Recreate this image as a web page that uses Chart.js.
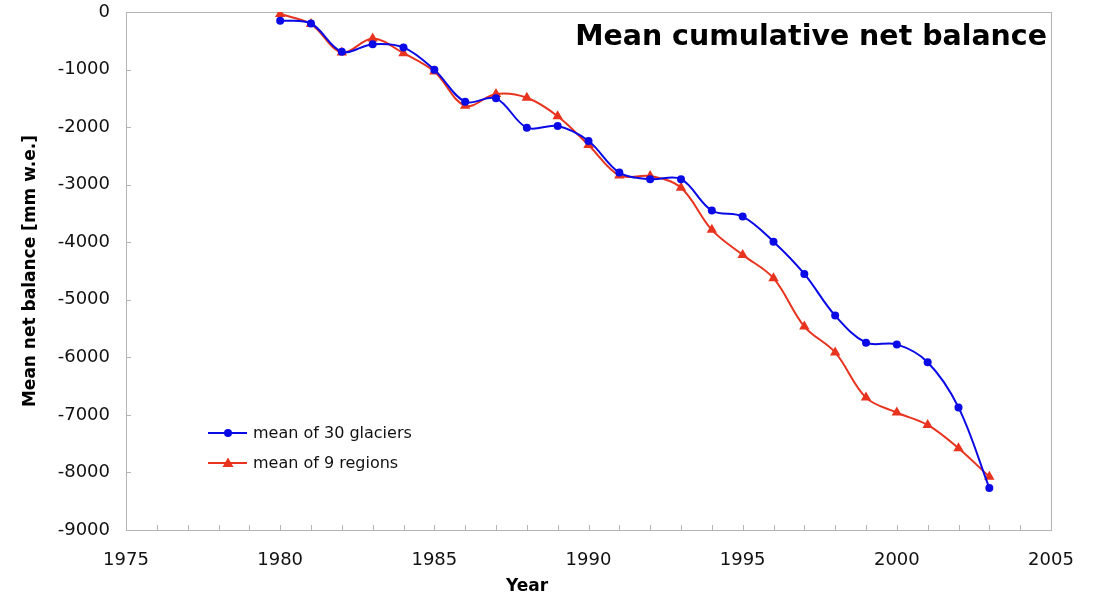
<!DOCTYPE html>
<html>
<head>
<meta charset="utf-8">
<title>Mean cumulative net balance</title>
<script src="https://cdn.jsdelivr.net/npm/chart.js@4/dist/chart.umd.min.js"></script>
<style>
  html, body { margin: 0; padding: 0; background: #ffffff; }
  #wrap { width: 1106px; height: 598px; position: relative; }
</style>
</head>
<body>
<div id="wrap"><canvas id="chart" width="1106" height="598"></canvas></div>
<script>
// Years of record and the cumulative balances (mm w.e.)
const years = [1980, 1981, 1982, 1983, 1984, 1985, 1986, 1987, 1988, 1989, 1990, 1991,
               1992, 1993, 1994, 1995, 1996, 1997, 1998, 1999, 2000, 2001, 2002, 2003];
const glaciers30 = [-150, -200, -690, -560, -615, -1005, -1560, -1500, -2010, -1980, -2240, -2790,
                    -2905, -2905, -3450, -3555, -3990, -4550, -5275, -5745, -5775, -6085, -6870, -8270];
const regions9 = [-35, -210, -705, -460, -715, -1035, -1630, -1425, -1490, -1810, -2310, -2840,
                  -2850, -3055, -3785, -4220, -4625, -5465, -5915, -6700, -6960, -7175, -7580, -8075];

const seriesNames = ['mean of 30 glaciers', 'mean of 9 regions'];
const chartTitle = 'Mean cumulative net balance';
const xAxisTitle = 'Year';
const yAxisTitle = 'Mean net balance [mm w.e.]';

const xMin = 1975, xMax = 2005, xStep = 5;
const yMin = -9000, yMax = 0, yStep = 1000;

const FONT = '"DejaVu Sans", Verdana, sans-serif';
const BLUE = '#0a0ae6';
const RED = '#e8331f';
const FRAME = '#b4b4b4';

const toPoints = (vals) => years.map((y, i) => ({ x: y, y: vals[i] }));

// Frame, inward tick marks, in-plot title, legend and x-axis title
const decorations = {
  id: 'decorations',
  beforeDatasetsDraw(chart) {
    const { ctx, chartArea: a, scales } = chart;
    ctx.save();
    ctx.strokeStyle = FRAME;
    ctx.lineWidth = 1;
    ctx.strokeRect(Math.round(a.left) + 0.5, Math.round(a.top) + 0.5,
                   Math.round(a.right - a.left), Math.round(a.bottom - a.top));
    ctx.beginPath();
    for (let yr = xMin + 1; yr < xMax; yr++) {
      const px = Math.round(scales.x.getPixelForValue(yr)) + 0.5;
      ctx.moveTo(px, a.bottom);
      ctx.lineTo(px, a.bottom - 5);
    }
    for (let v = yMin + yStep; v < yMax; v += yStep) {
      const py = Math.round(scales.y.getPixelForValue(v)) + 0.5;
      ctx.moveTo(a.left, py);
      ctx.lineTo(a.left + 5, py);
    }
    ctx.stroke();
    ctx.restore();
  },
  afterDraw(chart) {
    const { ctx, chartArea: a } = chart;
    ctx.save();
    // title inside the plot, top right
    let size = 28;
    ctx.font = `bold ${size}px ${FONT}`;
    const w = ctx.measureText(chartTitle).width;
    size = size * 472 / w;
    ctx.font = `bold ${size}px ${FONT}`;
    ctx.fillStyle = '#000';
    ctx.textAlign = 'right';
    ctx.textBaseline = 'middle';
    ctx.fillText(chartTitle, a.right - 4, 38);

    // legend
    const rows = [
      { name: seriesNames[0], color: BLUE, style: 'circle', y: 433 },
      { name: seriesNames[1], color: RED, style: 'triangle', y: 463 }
    ];
    rows.forEach(r => {
      ctx.strokeStyle = r.color;
      ctx.lineWidth = 1.8;
      ctx.beginPath();
      ctx.moveTo(208, r.y);
      ctx.lineTo(247, r.y);
      ctx.stroke();
      ctx.fillStyle = r.color;
      ctx.beginPath();
      if (r.style === 'circle') {
        ctx.arc(228, r.y, 4, 0, Math.PI * 2);
      } else {
        ctx.moveTo(228, r.y - 5.5);
        ctx.lineTo(233.5, r.y + 4);
        ctx.lineTo(222.5, r.y + 4);
        ctx.closePath();
      }
      ctx.fill();
      ctx.fillStyle = '#111';
      ctx.font = `16px ${FONT}`;
      ctx.textAlign = 'left';
      ctx.textBaseline = 'middle';
      ctx.fillText(r.name, 253, r.y + 1);
    });

    // x-axis title
    ctx.font = `bold 17px ${FONT}`;
    ctx.fillStyle = '#000';
    ctx.textAlign = 'center';
    ctx.textBaseline = 'middle';
    ctx.fillText(xAxisTitle, 527, 587);
    ctx.restore();
  }
};

new Chart(document.getElementById('chart'), {
  type: 'line',
  data: {
    datasets: [
      {
        label: seriesNames[0],
        data: toPoints(glaciers30),
        borderColor: BLUE,
        backgroundColor: BLUE,
        borderWidth: 2,
        pointStyle: 'circle',
        pointRadius: 4,
        pointBorderWidth: 0,
        tension: 0.35,
        fill: false
      },
      {
        label: seriesNames[1],
        data: toPoints(regions9),
        borderColor: RED,
        backgroundColor: RED,
        borderWidth: 2,
        pointStyle: 'triangle',
        pointRadius: 6,
        pointBorderWidth: 0,
        tension: 0.35,
        fill: false
      }
    ]
  },
  options: {
    responsive: false,
    animation: false,
    events: [],
    layout: { padding: { top: 12, right: 55, left: 0, bottom: 0 } },
    plugins: {
      legend: { display: false },
      title: { display: false },
      tooltip: { enabled: false }
    },
    scales: {
      x: {
        type: 'linear',
        min: xMin,
        max: xMax,
        afterFit(scale) {
          scale.height = 68;
          scale.paddingLeft = 0;
          scale.paddingRight = 0;
        },
        border: { display: false },
        grid: { display: false, drawTicks: false },
        ticks: {
          stepSize: xStep,
          autoSkip: false,
          maxRotation: 0,
          padding: 20,
          color: '#111',
          font: { family: FONT, size: 18 },
          callback: (v) => String(v)
        }
      },
      y: {
        type: 'linear',
        min: yMin,
        max: yMax,
        afterFit(scale) {
          scale.width = 126;
          scale.paddingTop = 0;
          scale.paddingBottom = 0;
        },
        border: { display: false },
        grid: { display: false, drawTicks: false },
        ticks: {
          stepSize: yStep,
          padding: 16,
          color: '#111',
          font: { family: FONT, size: 18 },
          callback: (v) => String(v)
        },
        title: {
          display: true,
          text: yAxisTitle,
          color: '#000',
          font: { family: FONT, size: 17, weight: 'bold' },
          padding: { top: 20, bottom: 0 }
        }
      }
    }
  },
  plugins: [decorations]
});
</script>
</body>
</html>
